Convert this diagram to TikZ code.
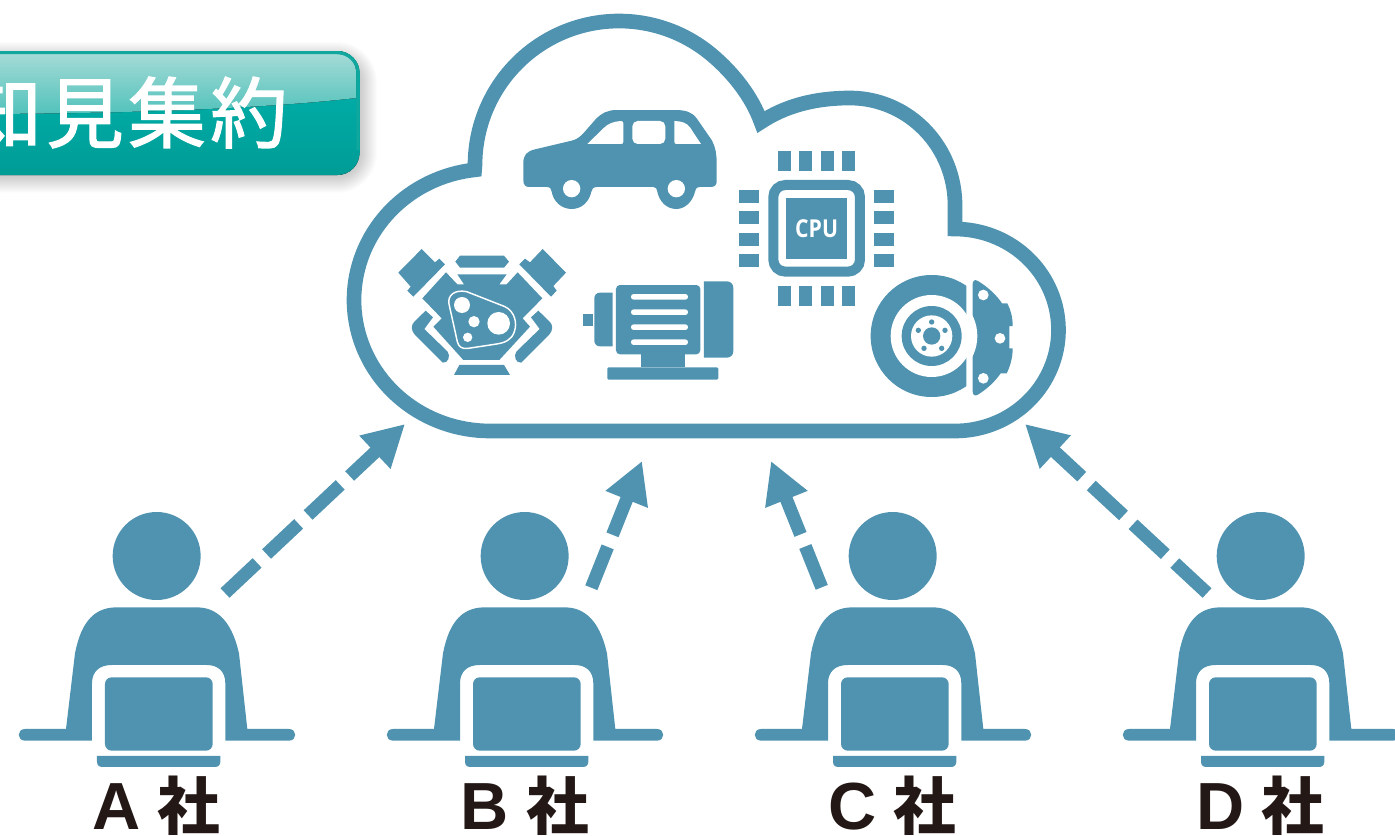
\documentclass[tikz,border=0pt]{standalone}
\usepackage{fontspec}
\usetikzlibrary{arrows.meta}
\newfontfamily\jpfont{Noto Sans CJK JP}
\newfontfamily\jpfake[FakeBold=1.6,LetterSpace=6]{Noto Sans CJK JP}
\newfontfamily\cpufont{Open Sans}
\newfontfamily\latinfont{Liberation Sans}
\definecolor{steel}{HTML}{4F93B0}
\definecolor{inkblack}{HTML}{231815}
\definecolor{tealmid}{HTML}{00B4AE}
\definecolor{tealdark}{HTML}{009C96}
\definecolor{tealedge}{HTML}{0FA79E}
\definecolor{glosstop}{HTML}{A3DAD6}
\definecolor{glossbot}{HTML}{52C2BB}
\newcommand\bannerbox[5]{({#1},{#2}) -- ({#3-(#5)},{#2}) .. controls ({#3-0.45*(#5)},{#2}) and ({#3},{#2+0.45*(#5)}) .. ({#3},{#2+(#5)}) -- ({#3},{#4-(#5)}) .. controls ({#3},{#4-0.45*(#5)}) and ({#3-0.45*(#5)},{#4}) .. ({#3-(#5)},{#4}) -- ({#1},{#4}) -- cycle}
\tikzset{
  ico/.style={fill=steel,draw=none},
  cut/.style={fill=white,draw=none},
  cloudline/.style={draw=steel,line width=11pt,miter limit=10,line join=miter},
  dashedarrow/.style={draw=steel,line width=9.75pt,dash pattern=on 33pt off 9.75pt,-{Triangle[length=31pt,width=32pt]}},
  companylabel/.style={text=inkblack,font=\bfseries,inner sep=0pt,anchor=base}
}
\begin{document}
\begin{tikzpicture}[scale=0.75,x=1pt,y=-1pt]
\clip (0,0) rectangle (1395,835);
% banner
\foreach \g in {1,...,18}{
  \fill[black,opacity=0.012] \bannerbox{-40}{60-\g}{359+\g}{175+\g}{22+\g};
}
\fill[top color=tealmid,bottom color=tealdark] \bannerbox{-40}{51}{359.5}{175}{22};
\fill[top color=glosstop,bottom color=glossbot]
  (-40,114) .. controls (100,114) and (250,110) .. (356,98) -- (356,72) .. controls (356,62) and (348,54) .. (338,54) -- (-40,54) -- cycle;
\draw[draw=tealedge,line width=2.4pt] (-40,52.6) -- (337,52.6) .. controls (349,52.6) and (358,62) .. (358,73) -- (358,150);
\node[anchor=east,inner sep=0pt,text=white,font=\jpfake\fontsize{58}{58}\selectfont] (title) at (288,112.5) {知見集約};
% cloud
\draw[cloudline]
  plot[domain=90:263.5,samples=70] ({490+136*cos(\x)},{300+131*sin(\x)})
  -- plot[domain=180:310,samples=70] ({619+144*cos(\x)},{165+144*sin(\x)})
  .. controls (733.6,73.2) and (752,97) .. (761,122)
  .. controls (785,106) and (815,98) .. (850,98)
  -- plot[domain=270:360,samples=40] ({850+105*cos(\x)},{205+107*sin(\x)})
  -- (955,229)
  -- plot[domain=270:450,samples=70] ({955+103.5*cos(\x)},{330+101*sin(\x)})
  -- cycle;
% car
\begin{scope}[shift={(500,90)},scale=1/3]
\fill[ico] (70,270) -- (70,220) .. controls (70,195) and (80,184) .. (105,178) -- (215,152) .. controls (232,148) and (240,140) .. (250,130) -- (285,90) .. controls (305,68) and (325,60) .. (350,60) -- (525,60) .. controls (555,60) and (575,65) .. (590,85) -- (635,150) .. controls (648,175) and (650,195) .. (650,220) -- (650,275) .. controls (650,287) and (642,291) .. (630,291) -- (600,291) .. controls (590,291) and (585,298) .. (585,305)
 .. controls (578,335) and (555,357) .. (529,357) .. controls (500,357) and (478,335) .. (472,305) .. controls (471,296) and (468,291) .. (460,291) -- (290,291) .. controls (280,291) and (275,298) .. (274,305) .. controls (268,335) and (245,357) .. (215,357) .. controls (185,357) and (160,335) .. (155,305) .. controls (154,296) and (150,291) .. (140,291) -- (88,291) .. controls (76,291) and (70,285) .. (70,270) -- cycle;
\fill[cut] (215,296) circle (26) (529,296) circle (26);
\fill[cut] (262,162) -- (310,115) .. controls (325,100) and (340,95) .. (362,93) .. controls (368,93) and (370,96) .. (370,100) -- (370,155) .. controls (370,160) and (368,162) .. (362,162) -- cycle;
\fill[cut,rounded corners=4pt] (397,93) -- (496,93) -- (496,162) -- (397,162) -- cycle;
\fill[cut] (523,93) .. controls (545,94) and (560,98) .. (570,112) -- (603,162) -- (530,162) .. controls (525,162) and (523,160) .. (523,155) -- cycle;
% cpu
\foreach \a/\b in {834/873,897/936,963/1002,1026/1065}{
  \fill[ico] (\a,183) rectangle (\b,243);
  \fill[ico] (\a,588) rectangle (\b,648);
}
\foreach \a/\b in {300/339,363/402,429/468,492/531}{
  \fill[ico] (717,\a) rectangle (777,\b);
  \fill[ico] (1122,\a) rectangle (1182,\b);
}
\draw[draw=steel,line width=7.5pt,rounded corners=9pt] (820,285) rectangle (1080,545);
\fill[ico] (858,324) rectangle (1041,507);
\node[text=white,inner sep=0pt,font=\cpufont\fontsize{18.5}{18.5}\selectfont,xscale=0.86] (cpulabel) at (950,416) {\textbf{CPU}};
\end{scope}
% engine and motor
\begin{scope}[shift={(380,230)},scale=1/3]
\fill[ico] (125,57) -- (165,97) -- (178,86) -- (195,103) -- (100,200) -- (82,182) -- (92,170) -- (55,128) -- cycle;
\fill[ico] (488,57) -- (558,128) -- (520,168) -- (530,182) -- (513,200) -- (418,103) -- (435,86) -- (450,97) -- cycle;
\fill[ico] (240,77) -- (372,77) -- (387,95) -- (372,113) -- (240,113) -- (226,95) -- cycle;
\fill[ico] (232,133) -- (380,133) -- (358,163) -- (380,163) -- (413,127) -- (487,205) -- (428,265) -- (450,290) -- (358,390) -- (250,390) -- (160,290) -- (185,265) -- (127,205) -- (198,127) -- (232,163) -- (252,163) -- cycle;
\draw[draw=white,line width=1.1pt] (207,222) .. controls (202,195) and (225,178) .. (260,185) -- (375,230) .. controls (405,245) and (412,280) .. (403,305) .. controls (395,330) and (375,338) .. (350,342) -- (265,355) .. controls (245,358) and (236,350) .. (232,335) -- cycle;
\fill[cut] (246,225) circle (24) (282,275) circle (17) (356,280) circle (34) (263,322) circle (14);
\fill[ico] (137,242) -- (159,262) -- (133,297) -- (203,365) .. controls (212,378) and (205,400) .. (188,398) -- (105,315) .. controls (92,300) and (93,285) .. (103,275) -- cycle;
\fill[ico] (475,242) -- (453,262) -- (479,297) -- (409,365) .. controls (400,378) and (407,400) .. (424,398) -- (507,315) .. controls (520,300) and (519,285) .. (509,275) -- cycle;
\fill[ico] (238,405) -- (372,405) -- (390,435) -- (222,435) -- cycle;
% motor
\fill[ico] (609,252) rectangle (639,288);
\fill[ico] (698,188) -- (660,188) .. controls (650,188) and (643,195) .. (643,205) -- (643,332) .. controls (643,342) and (650,349) .. (660,349) -- (698,349) -- cycle;
\fill[ico,rounded corners=3pt] (708,165) rectangle (961,373);
\fill[ico] (972,154) -- (1040,154) .. controls (1052,154) and (1060,162) .. (1060,174) -- (1060,363) .. controls (1060,375) and (1052,383) .. (1040,383) -- (972,383) -- cycle;
\foreach \a/\b in {192/209,238/255,283/300,328/345}{
  \fill[cut,rounded corners=2pt] (753,\a) rectangle (924,\b);
}
\fill[ico] (783,373) rectangle (915,412);
\fill[ico,rounded corners=1pt] (682,412) rectangle (1015,449);
\end{scope}
% brake
\begin{scope}[shift={(850,260)},scale=1/3]
\fill[ico] (368,72) .. controls (368,62) and (374,58) .. (382,62) .. controls (410,78) and (440,105) .. (456,130) -- (472,130) .. controls (482,150) and (488,170) .. (488,198) -- (478,198) -- (478,265) -- (488,265) .. controls (488,295) and (480,320) .. (470,340) -- (452,340) .. controls (435,365) and (410,388) .. (382,405) .. controls (374,409) and (368,404) .. (368,394) -- cycle;
\fill[cut] (245,228) circle (137);
\begin{scope}
\clip (0,0) rectangle (349,450);
\fill[ico] (245,228) circle (183);
\end{scope}
\fill[cut] (245,228) circle (123);
\fill[ico] (245,228) circle (90);
\fill[cut] (245,228) circle (62);
\fill[ico] (245,228) circle (26);
\fill[ico] (245,186) circle (8) (285,211) circle (8) (275,265) circle (8) (222,265) circle (8) (205,211) circle (8);
\fill[cut] (400,105) circle (16) (450,235) circle (16) (400,355) circle (16);
\end{scope}
% people
\foreach \off/\nm/\lx in {0/A/156.5,368/B/525,736/C/892.5,1104/D/1260.5}{
\begin{scope}[shift={(\off,500)},scale=1/3]
\fill[ico] (470,168) circle (132);
\fill[ico] (198,687) -- (225,460) .. controls (240,385) and (270,322) .. (350,322) -- (590,322) .. controls (665,322) and (700,385) .. (717,460) -- (742,687) -- (867,687) .. controls (892,687) and (892,722) .. (867,722) -- (676,722) -- (676,550) .. controls (676,515) and (655,495) .. (620,495) -- (335,495) .. controls (298,495) and (276,515) .. (276,550) -- (276,722) -- (75,722) .. controls (50,722) and (50,687) .. (75,687) -- cycle;
\fill[ico,rounded corners=5pt] (315,532) rectangle (638,752);
\fill[ico] (291,768) -- (661,768) -- (661,785) .. controls (661,795) and (655,801) .. (645,801) -- (307,801) .. controls (297,801) and (291,795) .. (291,785) -- cycle;
\end{scope}
\node[companylabel] (label\nm) at (\lx,829) {\fontsize{50}{50}\selectfont\latinfont\nm\hspace{13pt}\fontsize{47}{47}\selectfont\jpfont 社};
}
% arrows
\coordinate (cA) at (405,424); \coordinate (pA) at (225,593);
\coordinate (cB) at (642,461); \coordinate (pB) at (591.3,587.7);
\coordinate (cC) at (771,461); \coordinate (pC) at (821.7,587.3);
\coordinate (cD) at (1025,424); \coordinate (pD) at (1207,593);
\draw[dashedarrow] (pA) -- (cA);
\draw[dashedarrow] (pB) -- (cB);
\draw[dashedarrow] (pC) -- (cC);
\draw[dashedarrow] (pD) -- (cD);
\end{tikzpicture}
\end{document}
